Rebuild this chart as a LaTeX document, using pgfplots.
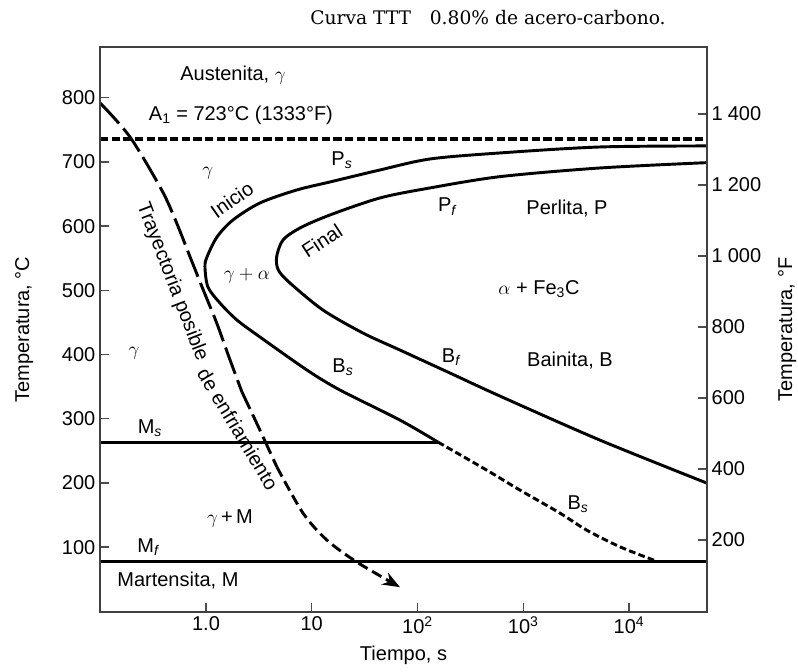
\documentclass[border=0pt]{standalone}
\usepackage{fontspec}
\setmainfont{Liberation Sans}
\newfontfamily\titlefont{DejaVu Serif}
\usepackage{pgfplots}
\pgfplotsset{compat=1.18}
\usetikzlibrary{arrows.meta}

\newcommand{\lbl}{\fontsize{15}{17}\selectfont}

\pgfplotsset{
  tttbase/.style={
    scale only axis, width=455.25pt, height=423.75pt,
    at={(0pt,0pt)}, anchor=south west,
    xmin=0.0995, xmax=54660,
    tick align=inside, major tick length=6.75pt,
    axis line style={line width=1.5pt, black!75},
    every tick/.style={black!70, line width=1pt},
    tick label style={font=\lbl, black},
    label style={font=\lbl},
    /pgf/number format/assume math mode=true,
  },
}

\begin{document}
\begin{tikzpicture}[x=1pt,y=1pt]
\begin{axis}[tttbase, xmode=log,
  xminorticks=false, yminorticks=false,
  ymin=-1, ymax=879,
  xtick={1,10,100,1000,10000},
  xticklabels={1.0,10,10\textsuperscript{2},10\textsuperscript{3},10\textsuperscript{4}},
  xtick pos=bottom,
  ytick={100,200,...,800},
  ytick pos=left,
  xlabel={Tiempo, s},
  ylabel={Temperatura, °C},
  xlabel style={at={(axis description cs:0.5,-0.076)},anchor=center},
  ylabel style={at={(axis description cs:-0.125,0.5)},anchor=center},
]
% A1 line
\addplot[line width=2.6pt, dash pattern=on 6.25pt off 2.5pt] coordinates {(0.0995,736) (54660,736)};
% Ms and Mf
\addplot[line width=2.2pt] coordinates {(0.0995,263.6) (156.3,263.6)};
\addplot[line width=2.2pt] coordinates {(0.0995,77) (54660,77)};
% start curve (Ps / Bs)
\addplot[line width=2.2pt, smooth] coordinates {
 (54660,724.9) (5318,723.3) (602.8,714.0) (131.3,704.6) (44.2,687.5)
 (14.88,668.8) (7.21,656.3) (3.24,636.1) (1.800,609.6) (1.271,583.1)
 (1.022,551.9) (0.978,536.3) (1.044,505.2) (1.356,480.2) (1.964,453.7)
 (3.24,427.3) (9.02,375.8) (18.5,344.7) (68.3,297.9) (156.3,263.6)};
% Bs dashed below Ms
\addplot[line width=2.2pt, smooth, dash pattern=on 5pt off 2.5pt] coordinates {
 (156.3,263.6) (451.2,220.0) (931.6,188.8) (2226,153.0) (3981,126.5) (8220,100.5) (18300,78)};
% finish curve (Pf / Bf)
\addplot[line width=2.2pt, smooth] coordinates {
 (54660,698.9) (5318,690.6) (602.8,677.1) (131.3,659.5) (44.2,643.9)
 (14.88,617.4) (7.74,597.1) (5.35,578.4) (4.66,552.4) (4.83,531.7)
 (6.23,511.4) (12.78,469.3) (30.5,433.5) (68.3,407.0) (202.9,371.2)
 (602.8,335.3) (5318,266.7) (54660,199.7)};
% cooling path
\addplot[line width=2.2pt, smooth, dash pattern=on 21pt off 5pt] coordinates {
 (0.0995,792) (0.1911,738.9) (0.3813,656.3) (0.528,604.9) (0.706,552.4)
 (0.943,500.5) (1.263,449.1) (1.650,396.1) (2.190,341.5)};
\addplot[line width=2.2pt, smooth, dash pattern=on 14pt off 4.5pt] coordinates {
 (2.190,341.5) (3.015,293.2) (4.69,224.7)};
\addplot[line width=2.2pt, smooth, dash pattern=on 8pt off 4pt, -{Stealth[length=13pt,width=10pt]}] coordinates {
 (4.69,224.7) (8.27,153.0) (13.94,110.9) (26.8,76.6) (68.3,37.7)};

\node[font=\lbl] at (axis cs:1.80,835.5) {Austenita, $\gamma$};
\node[font=\lbl] at (axis cs:2.14,773) {A\textsubscript{1} = 723°C (1333°F)};
\node[font=\lbl] at (axis cs:19.3,703) {P\textsubscript{\itshape s}};
\node[font=\lbl] at (axis cs:1.04,683) {$\gamma$};
\node[font=\lbl,rotate=35] at (axis cs:1.76,641) {Inicio};
\node[font=\lbl] at (axis cs:190,630) {P\textsubscript{\itshape f}};
\node[font=\lbl] at (axis cs:2594,627) {Perlita, P};
\node[font=\lbl,rotate=33] at (axis cs:12.5,577) {Final};
\node[font=\lbl] at (axis cs:2.44,522) {$\gamma + \alpha$};
\node[font=\lbl] at (axis cs:1409,502) {$\alpha$ + Fe\textsubscript{3}C};
\node[font=\lbl] at (axis cs:207,396) {B\textsubscript{\itshape f}};
\node[font=\lbl] at (axis cs:2768,391) {Bainita, B};
\node[font=\lbl] at (axis cs:19.75,380.5) {B\textsubscript{\itshape s}};
\node[font=\lbl] at (axis cs:0.209,402) {$\gamma$};
\node[font=\lbl] at (axis cs:0.2954,285.4) {M\textsubscript{\itshape s}};
\node[font=\lbl] at (axis cs:3295,167) {B\textsubscript{\itshape s}};
\node[font=\lbl] at (axis cs:1.687,145) {$\gamma$\,+\,M};
\node[font=\lbl] at (axis cs:0.283,100) {M\textsubscript{\itshape f}};
\node[font=\lbl] at (axis cs:0.543,48.6) {Martensita, M};
\node[font=\lbl,rotate=-69] at (axis cs:0.477,513) {Trayectoria posible};
\node[font=\lbl,rotate=-59] at (axis cs:2.01,284) {de enfriamiento};
\end{axis}

\begin{axis}[tttbase, xmode=log,
  xminorticks=false, yminorticks=false,
  ymin=-3, ymax=1589,
  xtick=\empty,
  ytick={200,400,...,1400},
  yticklabels={200,400,600,800,1\hspace{0.25em}000,1\hspace{0.25em}200,1\hspace{0.25em}400},
  ytick pos=right,
  ylabel={Temperatura, °F},
  ylabel style={at={(axis description cs:1.132,0.5)},anchor=center},
]
\addplot[draw=none] coordinates {(1,100)};
\end{axis}

\node[font=\titlefont\fontsize{14}{16}\selectfont] at (291,445.5) {Curva TTT\hspace{14pt}0.80\% de acero-carbono.};

\pgfresetboundingbox
\path (-75,-44.25) rectangle (523.5,459);
\end{tikzpicture}
\end{document}
